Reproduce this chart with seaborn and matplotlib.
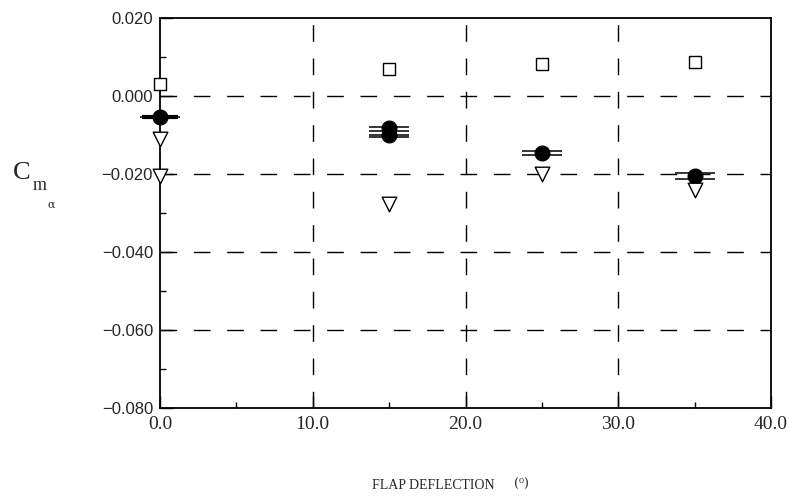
import matplotlib
matplotlib.use("Agg")
import matplotlib.pyplot as plt
import seaborn as sns
import pandas as pd
from matplotlib.ticker import MultipleLocator

sns.set_style("white")

# Data
sq_x = [0, 15, 25, 35]
sq_y = [0.0030, 0.0068, 0.0081, 0.0087]
circ_x = [0, 15, 15, 25, 35]
circ_y = [-0.0054, -0.0082, -0.0101, -0.0145, -0.0205]
tri_x = [0, 0, 15, 25, 35]
tri_y = [-0.0109, -0.0206, -0.0278, -0.0200, -0.0240]
bar_x = [0, 15, 15, 15, 15, 25, 25, 35, 35]
bar_y = [-0.0054, -0.0080, -0.0090, -0.0100, -0.0106, -0.0141, -0.0151, -0.0198, -0.0212]

xticks = [0, 10, 20, 30, 40]
xtick_labels = ["0.0", "10.0", "20.0", "30.0", "40.0"]
yticks = [0.02, 0.0, -0.02, -0.04, -0.06, -0.08]
ytick_labels = ["0.020", "0.000", "\u22120.020", "\u22120.040", "\u22120.060", "\u22120.080"]

fig = plt.figure(figsize=(7.89, 4.98), dpi=100)
ax = fig.add_axes([160/789, 1-408/498, (771-160)/789, (408-18)/498])

# grid lines (dashed)
for gx in xticks[1:-1]:
    ax.axvline(gx, color="black", lw=1.0, ls=(0, (12, 12)), zorder=1)
for gy in yticks[1:-1]:
    ax.axhline(gy, color="black", lw=1.0, ls=(0, (12, 12)), zorder=1)

bars = pd.DataFrame({"x": bar_x, "y": bar_y})
sns.scatterplot(data=bars, x="x", y="y", marker="_", s=850, color="black",
                linewidth=1.1, ax=ax, zorder=3, clip_on=False)
sns.scatterplot(x=[bar_x[0]], y=[bar_y[0]], marker="_", s=650, color="black",
                linewidth=3.0, ax=ax, zorder=3, clip_on=False)

sq = pd.DataFrame({"x": sq_x, "y": sq_y})
sns.scatterplot(data=sq, x="x", y="y", marker="s", s=70, facecolor="white",
                edgecolor="black", linewidth=1.0, ax=ax, zorder=4, clip_on=False)
ci = pd.DataFrame({"x": circ_x, "y": circ_y})
sns.scatterplot(data=ci, x="x", y="y", marker="o", s=115, color="black",
                edgecolor="black", linewidth=0.8, ax=ax, zorder=4, clip_on=False)
tr = pd.DataFrame({"x": tri_x, "y": tri_y})
sns.scatterplot(data=tr, x="x", y="y", marker="v", s=110, facecolor="white",
                edgecolor="black", linewidth=1.0, ax=ax, zorder=4, clip_on=False)

ax.set_xlim(0, 40)
ax.set_ylim(-0.08, 0.02)
ax.set_xticks(xticks)
ax.set_xticklabels(xtick_labels, family="Liberation Serif", fontsize=14)
ax.set_yticks(yticks)
ax.set_yticklabels(ytick_labels, family="Liberation Sans", fontsize=12)
ax.xaxis.set_minor_locator(MultipleLocator(5))
ax.yaxis.set_minor_locator(MultipleLocator(0.01))
ax.tick_params(which="major", direction="in", length=9, width=1, color="black",
               left=True, bottom=True)
ax.tick_params(axis="x", which="major", pad=6)
ax.tick_params(axis="y", which="major", pad=5)
ax.tick_params(which="minor", direction="in", length=4, width=1, color="black",
               left=True, bottom=True)
ax.set_xlabel("")
ax.set_ylabel("")
for sp in ax.spines.values():
    sp.set_color("black")
    sp.set_linewidth(1.3)
ax.set_facecolor("white")

# y label C_m_alpha
fig.text(13/789, 1-173/498, "C", family="Liberation Serif", fontsize=19,
         ha="left", va="center")
fig.text(33/789, 1-186/498, "m", family="Liberation Serif", fontsize=13,
         ha="left", va="center")
fig.text(47/789, 1-205/498, "\u03b1", family="DejaVu Serif", fontsize=8,
         ha="left", va="center")

# x label
fig.text(372/789, 1-485/498, "FLAP DEFLECTION", family="Liberation Serif",
         fontsize=10, ha="left", va="center")
fig.text(514/789, 1-484/498, "(\u2070)", family="DejaVu Serif",
         fontsize=9, ha="left", va="center")

fig.savefig("out.png", dpi=100, facecolor="white")
